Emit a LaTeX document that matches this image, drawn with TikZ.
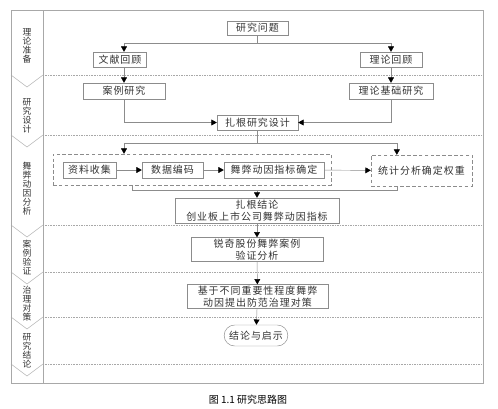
\documentclass[tikz,border=0pt]{standalone}
\usepackage{fontspec}
\newfontfamily\cjk[LetterSpace=10]{Noto Sans CJK SC}
\newfontfamily\cjkcap{Noto Sans CJK SC}
\usetikzlibrary{shapes,arrows.meta,positioning,calc}
\definecolor{rsInk}{HTML}{333333}
\definecolor{rsLine}{HTML}{8C8C8C}
\definecolor{rsFrame}{HTML}{A8A8A8}
\tikzset{
  box/.style={draw=rsLine, fill=white, inner sep=1pt, font=\cjk\fontsize{8.5}{10.5}\selectfont, text=rsInk, align=center},
  boxD/.style={box, densely dashed},
  boxR/.style={box, rounded rectangle},
  arr/.style={-{Triangle[length=4.5pt,width=5pt,color=black]}, draw=rsLine},
  lnk/.style={draw=rsLine},
  lbl/.style={font=\cjk\fontsize{7.5}{7.7}\selectfont, text=rsInk, align=center, inner sep=0pt},
  sep/.style={draw=rsFrame, densely dotted},
  frm/.style={draw=rsFrame},
}

\begin{document}
\begin{tikzpicture}[x=0.03cm, y=-0.03cm]
    \useasboundingbox (0,0) rectangle (498,408);
    % frame and stage column
    \draw[frm] (11,10) rectangle (483,383);
    \draw[frm] (43,10) -- (43,383);
    \foreach \y in {75,135,225,272,317,364} {
        \draw[sep] (43,\y) -- (483,\y);
        \draw[frm] (11,\y) -- (27,\y+12) -- (43,\y);
    }
    \node[lbl] (s1) at (27,45.5) {理\\论\\准\\备};
    \node[lbl] (s2) at (27,116) {研\\究\\设\\计};
    \node[lbl] (s3) at (27,188.5) {舞\\弊\\动\\因\\分\\析};
    \node[lbl] (s4) at (27,257.5) {案\\例\\验\\证};
    \node[lbl] (s5) at (27,303.5) {治\\理\\对\\策};
    \node[lbl] (s6) at (27,351) {研\\究\\结\\论};
    % flow
    \node[box, minimum width=1.83cm, minimum height=0.42cm] (q) at (257.5,28) {研究问题};
    \node[box, minimum width=1.59cm, minimum height=0.45cm] (lit) at (120,59.5) {文献回顾};
    \node[box, minimum width=1.86cm, minimum height=0.45cm] (th) at (391,59.5) {理论回顾};
    \node[box, minimum width=2.46cm, minimum height=0.48cm] (case) at (124,91) {案例研究};
    \node[box, minimum width=2.52cm, minimum height=0.48cm] (base) at (391,91) {理论基础研究};
    \node[box, minimum width=2.43cm, minimum height=0.45cm] (design) at (257.5,122.5) {扎根研究设计};
    \node[boxD, minimum width=8.34cm, minimum height=0.93cm] (grp) at (192,169.5) {};
    \node[box, minimum width=1.59cm, minimum height=0.48cm] (collect) at (89.5,170) {资料收集};
    \node[box, minimum width=1.83cm, minimum height=0.48cm] (code) at (172.5,170) {数据编码};
    \node[box, minimum width=3.0cm, minimum height=0.48cm] (index) at (274,170) {舞弊动因指标确定};
    \node[boxD, minimum width=3.03cm, minimum height=0.93cm] (stat) at (421.5,170.5) {统计分析确定权重};
    \node[box, minimum width=4.92cm, minimum height=0.75cm] (ground) at (257,210.5) {扎根结论\\创业板上市公司舞弊动因指标};
    \node[box, minimum width=3.96cm, minimum height=0.69cm] (verify) at (257,249.5) {锐奇股份舞弊案例\\验证分析};
    \node[box, minimum width=4.23cm, minimum height=0.69cm] (gov) at (257.5,296.5) {基于不同重要性程度舞弊\\动因提出防范治理对策};
    \node[boxR, minimum width=1.98cm, minimum height=0.63cm] (concl) at (256,335.5) {结论与启示};
    \node[font=\cjkcap\fontsize{8.5}{10}\selectfont] (cap) at (248,400) {图 1.1 研究思路图};
    % connectors
    \coordinate (j1) at (257.5,43);
    \coordinate (j2) at (257.5,143);
    \coordinate (j3) at (257,190);
    \draw[lnk] (q) -- (j1);
    \draw[arr] (j1) -| (case.north |- lit.north);
    \draw[arr] (j1) -| (th.north);
    \draw[arr] (case.north |- lit.south) -- (case.north);
    \draw[arr] (th) -- (base);
    \draw[arr] (case.south) |- (design.west);
    \draw[arr] (base.south) |- (design.east);
    \draw[lnk] (design) -- (j2);
    \draw[arr] (j2) -| (case.south |- grp.north);
    \draw[arr] (j2) -| ([xshift=-0.74cm]stat.north);
    \draw[arr] (collect) -- (code);
    \draw[arr] (code) -- (index);
    \draw[arr] (index) -- (stat);
    \draw[lnk] ([xshift=-1.8cm]grp.south) |- (j3);
    \draw[lnk] ([xshift=-0.74cm]stat.south) |- (j3);
    \draw[arr] (j3) -- (ground);
    \draw[arr] (ground) -- (verify);
    \draw[arr] (verify) -- (gov);
    \draw[arr] (gov) -- (concl);
\end{tikzpicture}
\end{document}
